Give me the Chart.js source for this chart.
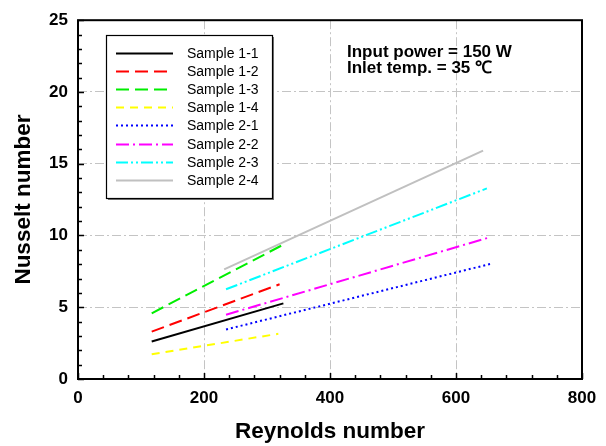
<!DOCTYPE html>
<html>
<head>
<meta charset="utf-8">
<script src="https://cdn.jsdelivr.net/npm/chart.js@4.4.1/dist/chart.umd.min.js"></script>
<style>
    html, body { margin: 0; padding: 0; background: #fff; }
    #wrap { width: 606px; height: 446px; }
</style>
</head>
<body>
<div id="wrap"><canvas id="nu-chart" width="606" height="446"></canvas></div>
<script>
// Nusselt number vs Reynolds number, one array pair per sample
const sampleNames = ['Sample 1-1', 'Sample 1-2', 'Sample 1-3', 'Sample 1-4',
                     'Sample 2-1', 'Sample 2-2', 'Sample 2-3', 'Sample 2-4'];

const re11 = [117, 326];  const nu11 = [2.61, 5.27];
const re12 = [117, 320];  const nu12 = [3.30, 6.60];
const re13 = [117, 324];  const nu13 = [4.58, 9.32];
const re14 = [117, 318];  const nu14 = [1.72, 3.15];
const re21 = [235, 654];  const nu21 = [3.45, 8.01];
const re22 = [235, 651];  const nu22 = [4.48, 9.84];
const re23 = [235, 649];  const nu23 = [6.25, 13.28];
const re24 = [232, 643];  const nu24 = [7.64, 15.91];

const reynolds = [re11, re12, re13, re14, re21, re22, re23, re24];
const nusselt = [nu11, nu12, nu13, nu14, nu21, nu22, nu23, nu24];

const xTickStep = 200;
const yTickStep = 5;
const noteLines = ['Input power = 150 W', 'Inlet temp. = 35 \u2103'];

const lineStyles = [
    { color: '#000000', dash: [] },
    { color: '#ff0000', dash: [13, 6] },
    { color: '#00ee00', dash: [13, 6] },
    { color: '#ffff00', dash: [8, 6] },
    { color: '#0000ff', dash: [2, 3] },
    { color: '#ff00ff', dash: [13, 4, 2, 4] },
    { color: '#00ffff', dash: [12, 3, 2, 3, 2, 3] },
    { color: '#c0c0c0', dash: [] }
];

const FONT = "'Liberation Sans', Arial, sans-serif";

const datasets = sampleNames.map((name, i) => ({
    label: name,
    data: reynolds[i].map((re, k) => ({ x: re, y: nusselt[i][k] })),
    borderColor: lineStyles[i].color,
    borderDash: lineStyles[i].dash,
    borderWidth: 2,
    pointRadius: 0,
    fill: false,
    tension: 0
}));

// inward ticks, frame, boxed legend and the test-condition note
const plotDecor = {
    id: 'plotDecor',
    afterDatasetsDraw(chart) {
        const { ctx, chartArea: a, scales: { x, y } } = chart;
        ctx.save();
        ctx.strokeStyle = '#000';
        ctx.lineWidth = 1.5;
        ctx.setLineDash([]);
        ctx.beginPath();
        for (let v = x.min; v <= x.max; v += 40) {
            const px = Math.round(x.getPixelForValue(v)) + 0.5;
            const len = v % xTickStep === 0 ? 6 : 4;
            ctx.moveTo(px, a.bottom);
            ctx.lineTo(px, a.bottom - len);
        }
        for (let v = y.min; v <= y.max; v += 1) {
            const py = Math.round(y.getPixelForValue(v)) + 0.5;
            const len = v % yTickStep === 0 ? 6 : 4;
            ctx.moveTo(a.left, py);
            ctx.lineTo(a.left + len, py);
        }
        ctx.stroke();

        ctx.lineWidth = 2;
        ctx.strokeRect(a.left, a.top, a.right - a.left, a.bottom - a.top);

        // legend box with a small drop shadow
        const bx = 106, by = 35, bw = 166, bh = 163;
        ctx.fillStyle = '#777';
        ctx.fillRect(bx + 2, by + 2, bw, bh);
        ctx.fillStyle = '#fff';
        ctx.fillRect(bx, by, bw, bh);
        ctx.lineWidth = 1.2;
        ctx.strokeStyle = '#000';
        ctx.strokeRect(bx + 0.5, by + 0.5, bw, bh);

        ctx.font = '14px ' + FONT;
        ctx.textBaseline = 'middle';
        ctx.textAlign = 'left';
        chart.data.datasets.forEach((ds, i) => {
            const ry = Math.round(53 + i * 18.1) + 0.5;
            ctx.strokeStyle = ds.borderColor;
            ctx.lineWidth = 2;
            ctx.setLineDash(ds.borderDash);
            ctx.beginPath();
            ctx.moveTo(116, ry);
            ctx.lineTo(173, ry);
            ctx.stroke();
            ctx.setLineDash([]);
            ctx.fillStyle = '#000';
            ctx.fillText(ds.label, 187, ry + 1);
        });

        ctx.font = 'bold 17px ' + FONT;
        ctx.textBaseline = 'alphabetic';
        ctx.fillText(noteLines[0], 347, 57);
        ctx.fillText(noteLines[1], 347, 73);
        ctx.restore();
    }
};

const hideEdgeGrid = (c) => {
    const v = c.tick ? c.tick.value : null;
    return (v === c.scale.min || v === c.scale.max) ? 'rgba(0,0,0,0)' : '#c4c4c4';
};

new Chart(document.getElementById('nu-chart'), {
    type: 'line',
    data: { datasets },
    options: {
        responsive: false,
        animation: false,
        devicePixelRatio: 1,
        layout: { padding: { left: 0, top: 15, right: 24, bottom: 0 } },
        plugins: {
            legend: { display: false },
            tooltip: { enabled: false }
        },
        scales: {
            x: {
                type: 'linear',
                min: 0,
                max: 800,
                afterFit(scale) { scale.height = 67; },
                ticks: {
                    stepSize: xTickStep,
                    color: '#000',
                    padding: 9,
                    maxRotation: 0,
                    font: { family: FONT, size: 17, weight: 'bold' }
                },
                grid: { color: hideEdgeGrid, lineWidth: 1, drawTicks: false },
                border: { display: false, dash: [9, 3, 2, 3] },
                title: {
                    display: true,
                    text: 'Reynolds number',
                    color: '#000',
                    padding: { top: 0, bottom: 1 },
                    font: { family: FONT, size: 22.5, weight: 'bold' }
                }
            },
            y: {
                type: 'linear',
                min: 0,
                max: 25,
                afterFit(scale) { scale.width = 78; },
                ticks: {
                    stepSize: yTickStep,
                    color: '#000',
                    padding: 10,
                    font: { family: FONT, size: 17, weight: 'bold' }
                },
                grid: { color: hideEdgeGrid, lineWidth: 1, drawTicks: false },
                border: { display: false, dash: [9, 3, 2, 3] },
                title: {
                    display: true,
                    text: 'Nusselt number',
                    color: '#000',
                    padding: { top: 10, bottom: 0 },
                    font: { family: FONT, size: 22.5, weight: 'bold' }
                }
            }
        }
    },
    plugins: [plotDecor]
});
</script>
</body>
</html>
